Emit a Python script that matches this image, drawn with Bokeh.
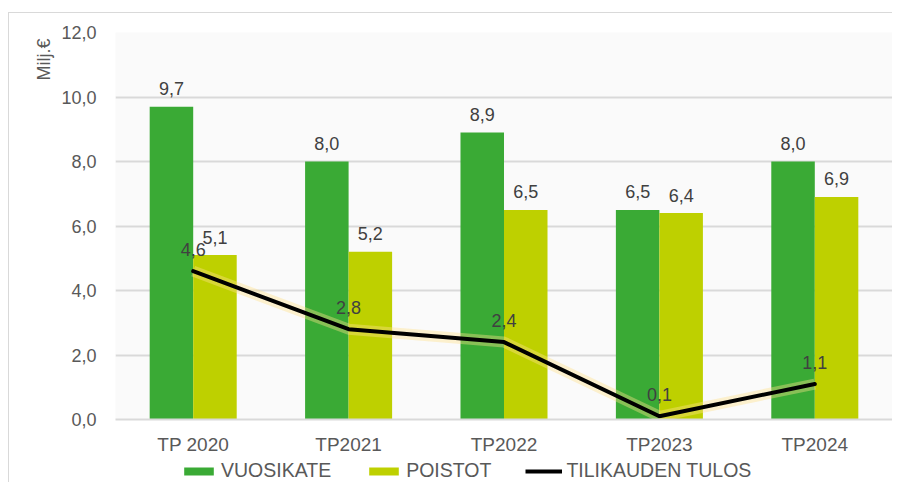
from bokeh.plotting import figure
from bokeh.models import (ColumnDataSource, FactorRange, Range1d, FixedTicker,
                          CustomJSTickFormatter, LabelSet, Title, Legend, LegendItem)
from bokeh.layouts import column
from bokeh.transform import dodge
from bokeh.core.properties import value
from bokeh.embed import file_html
from bokeh.resources import INLINE

categories = ["TP 2020", "TP2021", "TP2022", "TP2023", "TP2024"]
vuosikate = [9.7, 8.0, 8.9, 6.5, 8.0]
poistot = [5.1, 5.2, 6.5, 6.4, 6.9]
tulos = [4.6, 2.8, 2.4, 0.1, 1.1]
y_ticks = [0, 2, 4, 6, 8, 10, 12]

def fmt(v):
    return f"{v:.1f}".replace(".", ",")

src = ColumnDataSource(dict(
    cat=categories,
    vuosikate=vuosikate,
    poistot=poistot,
    tulos=tulos,
    v_lbl=[fmt(v) for v in vuosikate],
    p_lbl=[fmt(v) for v in poistot],
    t_lbl=[fmt(v) for v in tulos],
))

FONT = "Liberation Sans"
GREEN = "#3AAA35"
LIME = "#BED000"
W = 883

x_range = FactorRange(factors=categories, range_padding=0)

p = figure(x_range=x_range, y_range=Range1d(0, 12),
           width=W, height=444,
           min_border_left=106, min_border_right=0,
           min_border_top=19, min_border_bottom=38,
           output_backend="svg", toolbar_location=None)
p.background_fill_color = "#fafafa"
p.border_fill_color = "white"
p.outline_line_color = None

p.vbar(x=dodge("cat", -0.14, range=p.x_range), top="vuosikate", width=0.28,
       source=src, color=GREEN, line_color=None)
p.vbar(x=dodge("cat", 0.14, range=p.x_range), top="poistot", width=0.28,
       source=src, color=LIME, line_color=None)
p.line(x="cat", y="tulos", source=src, line_color="#ffe08a", line_width=11,
       line_alpha=0.4, line_join="round")
p.line(x="cat", y="tulos", source=src, line_color="black", line_width=4,
       line_join="round", line_cap="round")

common = dict(text_font=value(FONT), text_font_size="18px", text_color="#404040",
              text_align="center", text_baseline="middle")
p.add_layout(LabelSet(x=dodge("cat", -0.14, range=p.x_range), y="vuosikate", text="v_lbl",
                      y_offset=18, source=src, **common))
p.add_layout(LabelSet(x=dodge("cat", 0.14, range=p.x_range), y="poistot", text="p_lbl",
                      y_offset=18, source=src, **common))
p.add_layout(LabelSet(x="cat", y="tulos", text="t_lbl", y_offset=22, source=src, **common))

# axes
p.yaxis.ticker = FixedTicker(ticks=y_ticks)
p.yaxis.formatter = CustomJSTickFormatter(code="return tick.toFixed(1).replace('.', ',');")
p.yaxis.axis_line_color = None
p.yaxis.major_tick_line_color = None
p.yaxis.minor_tick_line_color = None
p.yaxis.major_label_standoff = 13
p.yaxis.major_label_text_font = FONT
p.yaxis.major_label_text_font_size = "18px"
p.yaxis.major_label_text_color = "#595959"

p.xaxis.axis_line_color = "#d9d9d9"
p.xaxis.axis_line_width = 2
p.xaxis.major_tick_line_color = None
p.xaxis.minor_tick_line_color = None
p.xaxis.major_label_standoff = 8
p.xaxis.major_label_text_font = FONT
p.xaxis.major_label_text_font_size = "19px"
p.xaxis.major_label_text_color = "#595959"

p.xgrid.grid_line_color = None
p.ygrid.grid_line_color = "#d9d9d9"
p.ygrid.grid_line_width = 2

p.add_layout(Title(text="Milj.€", align="right", offset=6, standoff=9,
                   text_font=FONT, text_font_size="18px", text_font_style="normal",
                   text_color="#595959"), "left")

# legend strip (same series, drawn outside its visible range so only the legend shows)
q = figure(x_range=x_range, y_range=Range1d(100, 101), width=W, height=25,
           min_border=0, output_backend="svg", toolbar_location=None)
q.axis.visible = False
q.grid.grid_line_color = None
q.outline_line_color = None
q.background_fill_color = "white"
q.border_fill_color = "white"
l1 = q.vbar(x="cat", top="vuosikate", width=0.28, source=src, color=GREEN, line_color=None)
l2 = q.vbar(x="cat", top="poistot", width=0.28, source=src, color=LIME, line_color=None)
l3 = q.line(x="cat", y="tulos", source=src, line_color="black", line_width=4)

legend = Legend(items=[LegendItem(label="VUOSIKATE", renderers=[l1]),
                       LegendItem(label="POISTOT", renderers=[l2]),
                       LegendItem(label="TILIKAUDEN TULOS", renderers=[l3])],
                orientation="horizontal", location=(65, 0))
legend.glyph_width = 37
legend.glyph_height = 10
legend.label_height = 22
legend.label_standoff = 4
legend.spacing = 34
legend.padding = 0
legend.margin = 0
legend.border_line_color = None
legend.background_fill_alpha = 0
legend.label_text_font = FONT
legend.label_text_font_size = "19.5px"
legend.label_text_color = "#595959"
q.add_layout(legend)

lay = column(p, q, spacing=0)
lay.margin = (12, 0, 0, 8)
lay.styles = {"border-top": "1px solid #d9d9d9", "border-left": "1px solid #d9d9d9"}

open("out.html", "w").write(file_html(lay, INLINE))
